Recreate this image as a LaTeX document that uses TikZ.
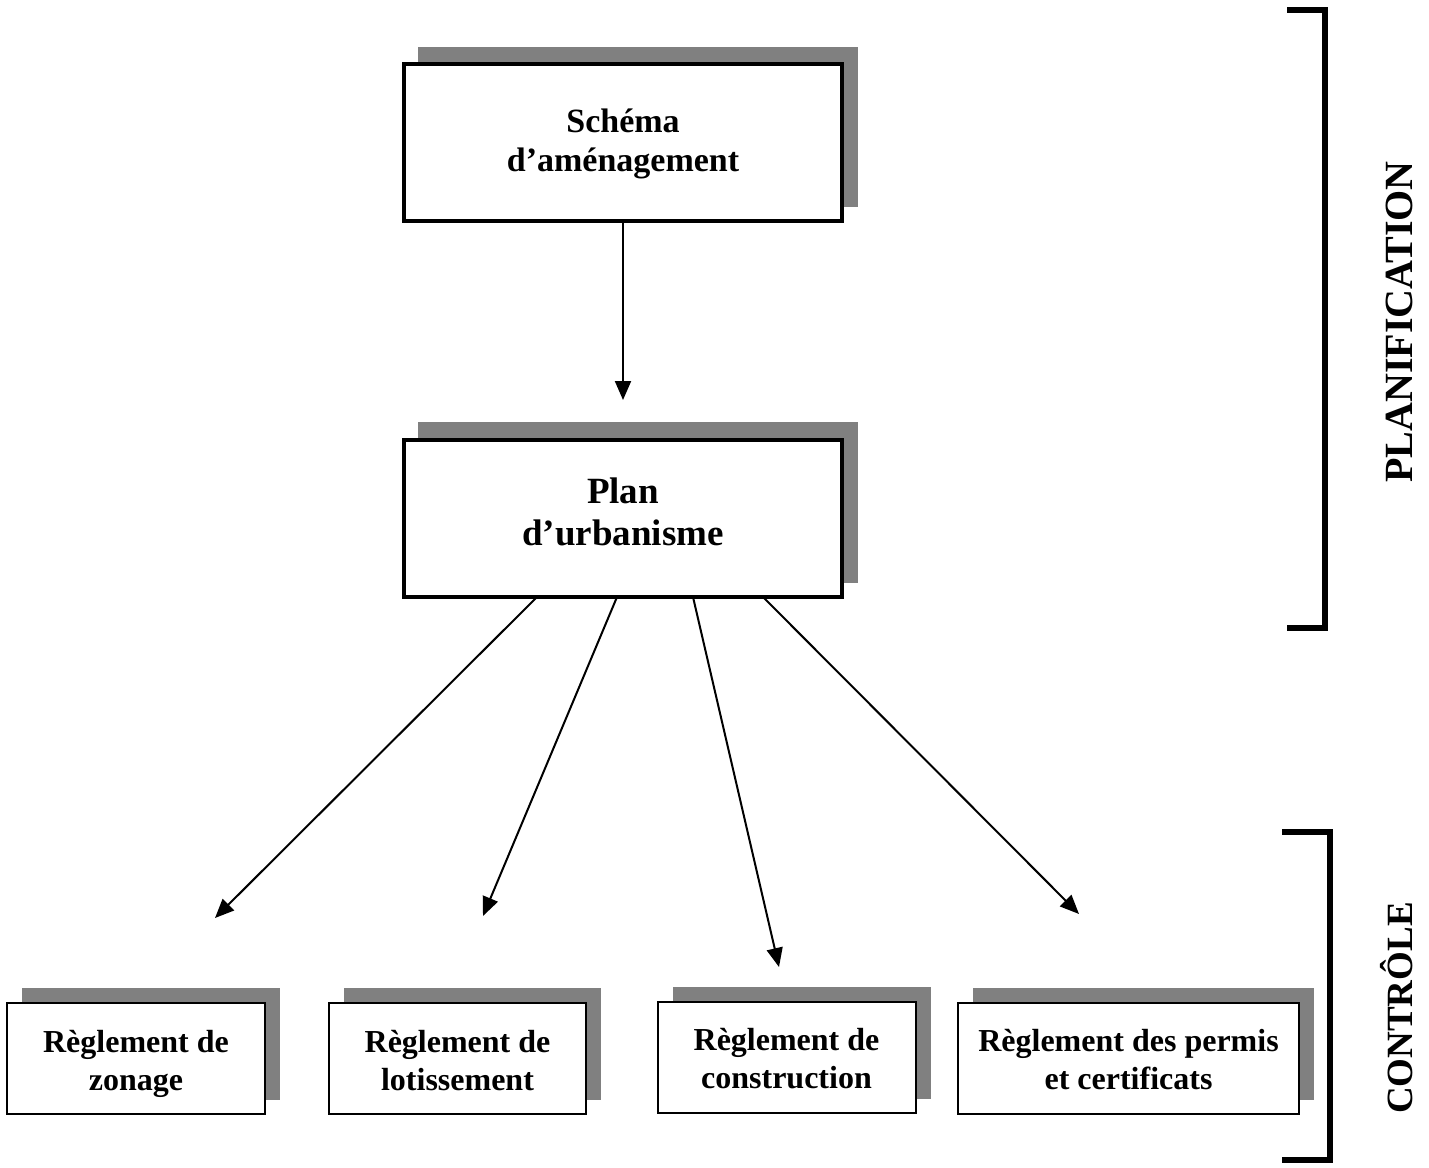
\documentclass[tikz,border=0pt]{standalone}
\usepackage{fontspec}
\setmainfont{Liberation Serif}
\usetikzlibrary{arrows.meta,backgrounds}
\newcommand\liftlines[2]{\raisebox{#1}[\height][\depth]{\begin{tabular}{@{}c@{}}#2\end{tabular}}}
\begin{document}
\begin{tikzpicture}[x=0.5pt,y=-0.5pt,
  bigbox/.style={draw=black,line width=2pt,fill=white,inner sep=0pt,outer sep=0pt,align=center,
    minimum width=219pt,minimum height=78.5pt},
  smallbox/.style={draw=black,line width=1pt,fill=white,inner sep=0pt,outer sep=0pt,align=center,
    minimum height=55.5pt,font=\fontsize{16}{19}\selectfont\bfseries},
  shadowfill/.style={fill=black!50},
  arr/.style={line width=1pt,-{Triangle[length=9.5pt,width=8pt]}},
  bracket/.style={line width=3pt},
  sidelabel/.style={rotate=90,font=\bfseries}]
\useasboundingbox (0,0) rectangle (1429,1167);

% main boxes
\node[bigbox,font=\fontsize{17}{19.5}\selectfont\bfseries] (a) at (623,142.5) {\liftlines{-1pt}{Schéma\\d’aménagement}};
\node[bigbox,font=\fontsize{18.5}{21}\selectfont\bfseries] (b) at (623,518.5) {\liftlines{1pt}{Plan\\d’urbanisme}};

% bottom boxes
\node[smallbox,minimum width=129pt] (c1) at (136,1058.5) {\liftlines{-2.5pt}{Règlement de\\zonage}};
\node[smallbox,minimum width=128.5pt] (c2) at (457.5,1058.5) {\liftlines{-2.5pt}{Règlement de\\lotissement}};
\node[smallbox,minimum width=129pt] (c3) at (786.5,1057) {\liftlines{-2.5pt}{Règlement de\\construction}};
\node[smallbox,minimum width=170.5pt] (c4) at (1128.5,1058.5) {\liftlines{-2pt}{Règlement des permis\\et certificats}};

% shadows
\begin{pgfonlayer}{background}
  \fill[shadowfill] ([xshift=7pt,yshift=8.5pt]a.north west) rectangle ([xshift=8pt,yshift=7pt]a.south east);
  \fill[shadowfill] ([xshift=7pt,yshift=9pt]b.north west) rectangle ([xshift=8pt,yshift=7pt]b.south east);
  \foreach \n in {c1,c2,c3,c4}
    \fill[shadowfill] ([xshift=7.5pt,yshift=7.5pt]\n.north west) rectangle ([xshift=7.5pt,yshift=7pt]\n.south east);
\end{pgfonlayer}

% arrow end points
\coordinate (e0) at (623,400);
\coordinate (e1) at (215,918);
\coordinate (e2) at (483,916);
\coordinate (e3) at (779,967);
\coordinate (e4) at (1079,914);

\draw[arr] (a.south) -- (e0);
\draw[arr] ([xshift=-43pt]b.south) -- (e1);
\draw[arr] ([xshift=-3pt]b.south) -- (e2);
\draw[arr] ([xshift=35pt]b.south) -- (e3);
\draw[arr] ([xshift=70pt]b.south) -- (e4);

% brackets
\coordinate (p1) at (1287,10);
\coordinate (p2) at (1325,10);
\coordinate (p3) at (1325,628);
\coordinate (p4) at (1287,628);
\draw[bracket] (p1) -- (p2) -- (p3) -- (p4);
\coordinate (q1) at (1282,832);
\coordinate (q2) at (1330,832);
\coordinate (q3) at (1330,1160);
\coordinate (q4) at (1282,1160);
\draw[bracket] (q1) -- (q2) -- (q3) -- (q4);

\node[sidelabel,font=\fontsize{20}{22}\selectfont\bfseries] (plan) at (1399,322) {PLANIFICATION};
\node[sidelabel,font=\fontsize{18.5}{22}\selectfont\bfseries,anchor=base] (ctrl) at (1412,1008) {CONTRÔLE};
\end{tikzpicture}
\end{document}
